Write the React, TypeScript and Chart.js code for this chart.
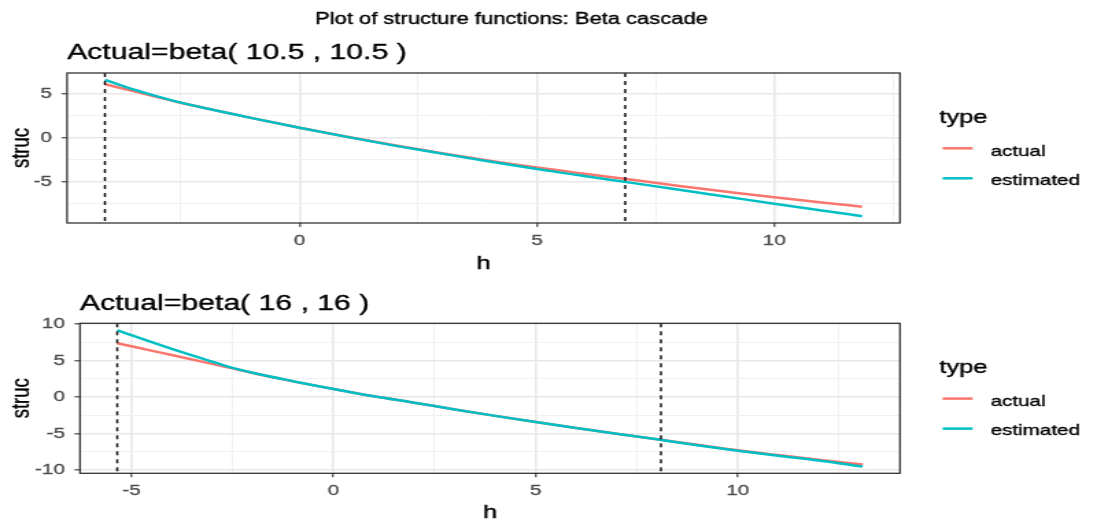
import React, { useEffect, useRef } from 'react';
import { Chart, registerables } from 'chart.js';

Chart.register(...registerables);

// ---------- text ----------
const MAIN_TITLE = 'Plot of structure functions: Beta cascade';
const LEGEND_TITLE = 'type';
const SERIES_NAMES = ['actual', 'estimated'];
const SERIES_COLORS = ['#F8766D', '#00BFC4'];
const X_TITLE = 'h';
const Y_TITLE = 'struc';

// ---------- panel 1 data ----------
const title1 = 'Actual=beta( 10.5 , 10.5 )';
const h1 = [-4.1, -3.5, -3, -2.5, -2, -1, 0, 1, 2, 3, 4, 5, 6, 7, 8, 9, 10, 11, 11.85];
const actual1 = [6.13, 5.33, 4.66, 4.0, 3.4, 2.25, 1.15, 0.12, -0.85, -1.75, -2.6, -3.38, -4.08, -4.78, -5.48, -6.14, -6.78, -7.36, -7.86];
const estimated1 = [6.62, 5.54, 4.74, 4.02, 3.4, 2.25, 1.15, 0.11, -0.88, -1.8, -2.7, -3.56, -4.35, -5.13, -5.92, -6.72, -7.52, -8.28, -8.93];
const vlines1 = [-4.1, 6.86];

// ---------- panel 2 data ----------
const title2 = 'Actual=beta( 16 , 16 )';
const h2 = [-5.35, -5, -4, -3, -2.5, -2, -1, 0, 1, 2, 3, 4, 5, 6, 7, 8, 9, 10, 11, 12, 13.09];
const actual2 = [7.36, 6.95, 5.75, 4.55, 3.92, 3.3, 2.15, 1.1, 0.1, -0.78, -1.7, -2.58, -3.43, -4.25, -5.02, -5.78, -6.55, -7.3, -7.95, -8.58, -9.25];
const estimated2 = [9.17, 8.48, 6.6, 4.85, 4.0, 3.32, 2.17, 1.1, 0.1, -0.78, -1.7, -2.58, -3.43, -4.25, -5.02, -5.8, -6.6, -7.36, -8.05, -8.7, -9.52];
const vlines2 = [-5.35, 8.1];

const MAJOR_STEP = 5;
const MINOR_STEP = 2.5;

// ---------- layout ----------
const W_INT = 800;
const W_CSS = 1097;
const FONT = "'Liberation Sans', Arial, Helvetica, sans-serif";

const G1 = { height: 280, left: 48.9, right: 656.3, top: 73, bottom: 223, titleBase: 59, xTitleBase: 269, mainTitle: true };
const G2 = { height: 243, left: 58.3, right: 656.3, top: 43.3, bottom: 193.3, titleBase: 30, xTitleBase: 238, mainTitle: false };

function expand(vals: number[]): [number, number] {
  const mn = Math.min(...vals);
  const mx = Math.max(...vals);
  const w = mx - mn;
  return [mn - 0.05 * w, mx + 0.05 * w];
}

function isMajor(v: number) {
  return Math.abs(v / MAJOR_STEP - Math.round(v / MAJOR_STEP)) < 1e-9;
}

function makeTicks(min: number, max: number) {
  const out: { value: number }[] = [];
  const k0 = Math.ceil(min / MINOR_STEP - 1e-9);
  const k1 = Math.floor(max / MINOR_STEP + 1e-9);
  for (let k = k0; k <= k1; k++) out.push({ value: k * MINOR_STEP });
  return out;
}

function axisOpts(min: number, max: number, isX: boolean, g: any) {
  return {
    type: 'linear',
    position: isX ? 'bottom' : 'left',
    min,
    max,
    afterBuildTicks: (s: any) => {
      s.ticks = makeTicks(s.min, s.max);
    },
    afterFit: (s: any) => {
      if (isX) s.height = g.height - g.bottom;
      else s.width = g.left;
    },
    border: { display: false },
    grid: {
      drawOnChartArea: true,
      drawTicks: true,
      tickLength: 4,
      color: (c: any) => (c.tick && isMajor(c.tick.value) ? '#E8E8E8' : '#F1F1F1'),
      lineWidth: (c: any) => (c.tick && isMajor(c.tick.value) ? 1.6 : 1.0),
      tickColor: (c: any) => (c.tick && isMajor(c.tick.value) ? '#333333' : 'rgba(0,0,0,0)'),
      tickWidth: 1.1,
    },
    ticks: {
      autoSkip: false,
      maxRotation: 0,
      minRotation: 0,
      padding: isX ? 5 : 7,
      color: '#4D4D4D',
      textStrokeColor: '#4D4D4D',
      textStrokeWidth: 0.35,
      font: { family: FONT, size: 15 },
      callback: (v: any) => (isMajor(Number(v)) ? String(v) : ''),
    },
  };
}

function drawText(ctx: any, s: string, x: number, y: number) {
  ctx.fillText(s, x, y);
  ctx.strokeText(s, x, y);
}

function Panel(props: { title: string; h: number[]; actual: number[]; estimated: number[]; vlines: number[]; g: any; top: number }) {
  const ref = useRef<HTMLCanvasElement>(null);
  const { title, h, actual, estimated, vlines, g, top } = props;

  useEffect(() => {
    const canvas = ref.current;
    if (!canvas) return;
    const [xmin, xmax] = expand([...h, ...vlines]);
    const [ymin, ymax] = expand([...actual, ...estimated]);

    const decor = {
      id: 'decor',
      afterDatasetsDraw(chart: any) {
        const { ctx, chartArea: a } = chart;
        const xs = chart.scales.x;
        ctx.save();
        ctx.strokeStyle = '#111111';
        ctx.lineWidth = 1.5;
        ctx.setLineDash([4, 4]);
        vlines.forEach((v) => {
          const px = xs.getPixelForValue(v);
          ctx.beginPath();
          ctx.moveTo(px, a.top);
          ctx.lineTo(px, a.bottom);
          ctx.stroke();
        });
        ctx.restore();
      },
      afterDraw(chart: any) {
        const { ctx, chartArea: a } = chart;
        ctx.save();
        // panel border
        ctx.strokeStyle = '#333333';
        ctx.lineWidth = 1.3;
        ctx.strokeRect(a.left, a.top, a.right - a.left, a.bottom - a.top);

        ctx.fillStyle = '#000000';
        ctx.strokeStyle = '#000000';
        ctx.lineWidth = 0.35;
        ctx.textBaseline = 'alphabetic';
        // main title
        if (g.mainTitle) {
          ctx.font = `16px ${FONT}`;
          ctx.textAlign = 'center';
          drawText(ctx, MAIN_TITLE, 373, 24);
        }
        // panel title
        ctx.font = `22px ${FONT}`;
        ctx.textAlign = 'left';
        drawText(ctx, title, a.left, g.titleBase);
        // x title
        ctx.font = `18.5px ${FONT}`;
        ctx.textAlign = 'center';
        drawText(ctx, X_TITLE, (a.left + a.right) / 2, g.xTitleBase);
        // y title
        ctx.save();
        ctx.translate(20.6, (a.top + a.bottom) / 2);
        ctx.rotate(-Math.PI / 2);
        drawText(ctx, Y_TITLE, 0, 0);
        ctx.restore();
        // legend
        ctx.textAlign = 'left';
        ctx.font = `18.5px ${FONT}`;
        drawText(ctx, LEGEND_TITLE, 685, a.top + 50);
        SERIES_NAMES.forEach((name, i) => {
          const ky = a.top + 75.3 + 30 * i;
          ctx.strokeStyle = SERIES_COLORS[i];
          ctx.lineWidth = 2.5;
          ctx.beginPath();
          ctx.moveTo(687.4, ky);
          ctx.lineTo(709.3, ky);
          ctx.stroke();
          ctx.fillStyle = '#000000';
          ctx.strokeStyle = '#000000';
          ctx.lineWidth = 0.35;
          ctx.font = `15px ${FONT}`;
          drawText(ctx, name, 722.5, a.top + 82.5 + 29.5 * i);
        });
        ctx.restore();
      },
    };

    const chart = new Chart(canvas, {
      type: 'line',
      data: {
        datasets: [
          {
            label: SERIES_NAMES[0],
            data: h.map((x, i) => ({ x, y: actual[i] })),
            borderColor: SERIES_COLORS[0],
            borderWidth: 2.5,
            pointRadius: 0,
            cubicInterpolationMode: 'monotone',
            order: 1,
          },
          {
            label: SERIES_NAMES[1],
            data: h.map((x, i) => ({ x, y: estimated[i] })),
            borderColor: SERIES_COLORS[1],
            borderWidth: 2.5,
            pointRadius: 0,
            cubicInterpolationMode: 'monotone',
            order: 0,
          },
        ],
      },
      options: {
        animation: false,
        responsive: false,
        events: [],
        parsing: false,
        layout: { padding: { left: 0, top: g.top, right: W_INT - g.right, bottom: 0 } },
        plugins: { legend: { display: false }, tooltip: { enabled: false }, title: { display: false } },
        scales: {
          x: axisOpts(xmin, xmax, true, g) as any,
          y: axisOpts(ymin, ymax, false, g) as any,
        },
      },
      plugins: [decor],
    } as any);
    return () => chart.destroy();
  }, []);

  return (
    <canvas
      ref={ref}
      width={W_INT}
      height={g.height}
      style={{ position: 'absolute', left: 0, top, width: `${W_CSS}px`, height: `${g.height}px` }}
    />
  );
}

export default function App() {
  return (
    <div style={{ position: 'fixed', left: 0, top: 0, width: W_CSS, height: 523, background: '#ffffff' }}>
      <Panel title={title1} h={h1} actual={actual1} estimated={estimated1} vlines={vlines1} g={G1} top={0} />
      <Panel title={title2} h={h2} actual={actual2} estimated={estimated2} vlines={vlines2} g={G2} top={280} />
    </div>
  );
}
